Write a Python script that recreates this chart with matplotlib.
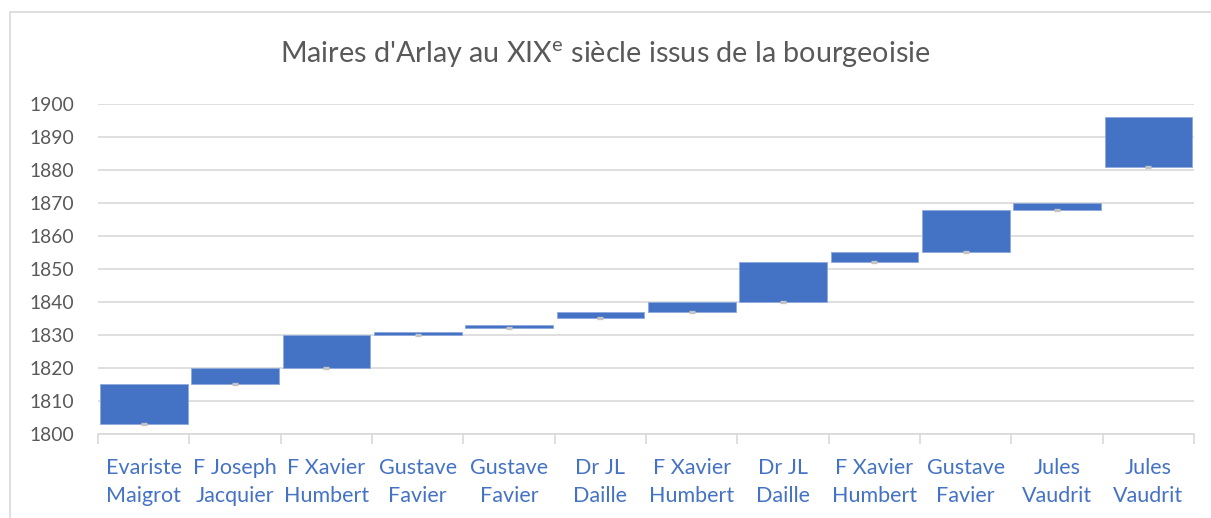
import matplotlib.pyplot as plt
from matplotlib.patches import Rectangle

# Mandats des maires (année de début, année de fin)
maires = ['Evariste\nMaigrot', 'F Joseph\nJacquier', 'F Xavier\nHumbert', 'Gustave\nFavier',
          'Gustave\nFavier', 'Dr JL\nDaille', 'F Xavier\nHumbert', 'Dr JL\nDaille',
          'F Xavier\nHumbert', 'Gustave\nFavier', 'Jules\nVaudrit', 'Jules\nVaudrit']
debut = [1803, 1815, 1820, 1830, 1832, 1835, 1837, 1840, 1852, 1855, 1868, 1881]
fin = [1815, 1820, 1830, 1831, 1833, 1837, 1840, 1852, 1855, 1868, 1870, 1896]
annees = [1800, 1810, 1820, 1830, 1840, 1850, 1860, 1870, 1880, 1890, 1900]

plt.rcParams['font.family'] = ['Lato', 'DejaVu Sans']

fig = plt.figure(figsize=(12.11, 5.18), dpi=100)
ax = fig.add_axes([0.081, 0.1622, 0.905, 0.637])

# Cadre du graphique
fig.patches.append(Rectangle((10 / 1211, -0.01), 1.02, 1 - 12 / 518 + 0.01,
                             transform=fig.transFigure, fill=False,
                             edgecolor='#D9D9D9', linewidth=1.2))

x = range(len(maires))
hauteurs = [f - d for d, f in zip(debut, fin)]
ax.bar(x, hauteurs, bottom=debut, width=0.96, color='#4472C4',
       edgecolor='#8FAADC', linewidth=0.6, zorder=3)
ax.plot(x, debut, linestyle='none', marker='_', markersize=4.5,
        markeredgewidth=2.4, color='#C4C4C4', zorder=4)

ax.set_xlim(-0.5, len(maires) - 0.5)
ax.set_ylim(1800, 1900)
ax.set_yticks(annees)
ax.yaxis.grid(True, color='#D9D9D9', linewidth=1.2, zorder=0)
ax.set_axisbelow(True)

for s in ['left', 'right', 'top']:
    ax.spines[s].set_visible(False)
ax.spines['bottom'].set_color('#D9D9D9')
ax.spines['bottom'].set_linewidth(1.2)

ax.tick_params(axis='y', length=0, labelsize=13.9, labelcolor='#595959', pad=17)
ax.set_xticks(x)
ax.set_xticklabels(maires, fontsize=15.5, color='#4472C4', linespacing=1.5)
ax.tick_params(axis='x', length=0, pad=17)
# petites graduations entre les catégories
ax.set_xticks([i - 0.5 for i in range(len(maires) + 1)], minor=True)
ax.tick_params(axis='x', which='minor', length=7, color='#D9D9D9', width=1.2)

fig.text(0.5, 1 - 55 / 518, "Maires d'Arlay au XIX$^\\mathregular{e}$ siècle issus de la bourgeoisie",
         ha='center', va='center', fontsize=20.7, color='#595959')

fig.savefig('out.png', dpi=100)
